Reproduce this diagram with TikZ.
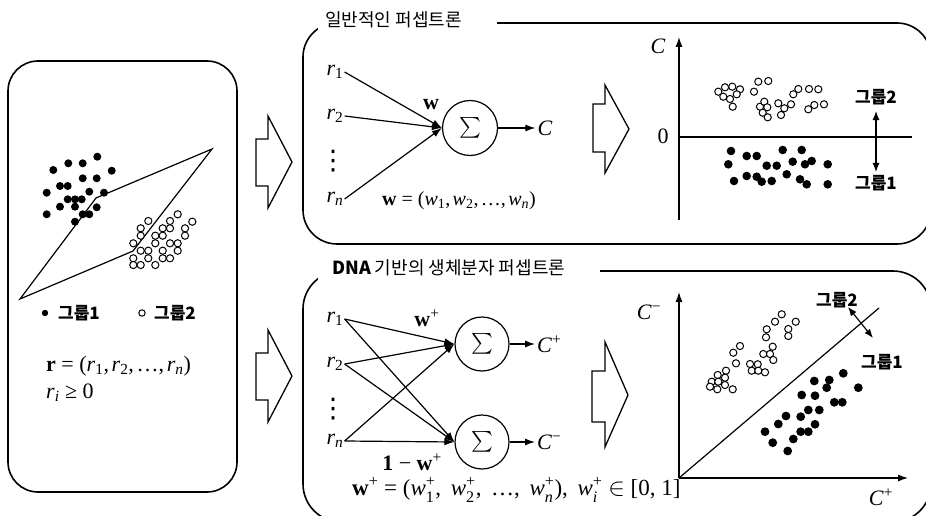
\documentclass[tikz,border=0pt]{standalone}
\usepackage{amsmath}
\usepackage{fontspec}
\setmainfont{Liberation Serif}
\newfontfamily\krfont{Noto Sans CJK KR}
\newfontfamily\symfont{DejaVu Sans}
\usetikzlibrary{arrows.meta}

% scripts set in the text font
\newcommand{\sbx}[1]{\ensuremath{_{\text{#1}}}}
\newcommand{\spx}[1]{\ensuremath{^{\text{#1}}}}
\newcommand{\spsb}[2]{\ensuremath{^{\text{#1}}_{\text{#2}}}}
% separators inside the vectors
\newcommand{\tsep}{,\hspace{0.12em}}
\newcommand{\wsep}{,\hspace{0.42em}}

\tikzset{
  panel/.style={line width=1.6pt, rounded corners=34pt},
  wire/.style={line width=1.2pt},
  arr/.style={wire, -{Latex[length=10pt,width=7pt]}},
  darr/.style={wire, {Latex[length=9pt,width=7pt]}-{Latex[length=9pt,width=7pt]}},
  blockarrow/.style={line width=1.3pt, line join=miter},
  mth/.style={font=\fontsize{22}{24}\selectfont, inner sep=1pt},
  bigmth/.style={font=\fontsize{22}{24}\selectfont, inner sep=0pt, anchor=west},
  dotsnode/.style={font=\symfont\fontsize{27}{29}\selectfont, inner sep=0pt},
  grp/.style={font=\krfont\bfseries\fontsize{17}{19}\selectfont, inner sep=1pt},
  paneltitle/.style={font=\krfont\fontsize{18}{20}\selectfont, anchor=west, inner sep=0pt},
  sumnode/.style={circle, draw, line width=1.2pt, minimum size=55pt, inner sep=0pt,
                  font=\fontsize{22}{24}\selectfont},
  fulldot/.style={fill=black},
  opendot/.style={draw, fill=white, line width=1pt},
}

\begin{document}
\begin{tikzpicture}[x=1pt, y=-1pt]
\path[use as bounding box] (0,0) rectangle (926,516);
\clip (0,0) rectangle (926,516);

% ---------------- input panel ----------------
\draw[panel, rounded corners=30pt] (8,61) rectangle (237,492);

% two groups of samples
\foreach \x/\y in {97.3/156.7, 68.3/163.3, 82.7/163.3, 53.3/170, 111.7/170.7,
  82.7/178.3, 96.7/178.3, 60/186, 67.7/186, 46.7/192.7, 89.3/191.7, 104/192.7,
  67.7/199.3, 75/199.3, 81.7/199.3, 60/206.7, 75/206.7, 96.7/207.3, 46.7/214.3,
  82.7/214.3, 89.3/214.3, 75/221.7}
  \fill[fulldot] (\x,\y) circle (4pt);
\draw[wire] (20,299) -- (96,198) -- (212,149) -- (133,251) -- cycle;
\foreach \x/\y in {177.7/214.3, 148.3/221, 170/221, 192.3/221.7, 140.7/228.3,
  162.7/228.3, 170/228.3, 185/228.3, 140.7/235.7, 155.3/235.7, 162.7/235.7,
  185/235.7, 133.3/243.3, 155.3/243.3, 170/243.3, 177.7/243.3, 140.7/250.7,
  148.3/250.7, 162.7/250.7, 177.7/250.7, 133.3/258.3, 148.3/258.3, 162.7/258.3,
  170/258.3, 133.3/265, 140.7/265, 155.3/265}
  \draw[opendot] (\x,\y) circle (3.6pt);

% legend
\fill[fulldot] (45,313) circle (3.2pt);
\node[grp] (leg1) at (79,313) {그룹1};
\draw[opendot] (142,313) circle (3.2pt);
\node[grp] (leg2) at (175,313) {그룹2};

\node[bigmth] (rvec) at (46,366) {\textbf{r} = (\textit{r}\sbx{1}\tsep\textit{r}\sbx{2}\tsep…\tsep\textit{r}\sbx{\itshape n})};
\node[bigmth] (rpos) at (46,393) {\textit{r}\sbx{\itshape i} ≥ 0};

% ---------------- block arrows ----------------
\draw[blockarrow] (256,139) -- (268,139) -- (268,116) -- (292,162) -- (268,208)
  -- (268,186) -- (256,186) -- cycle;
\draw[blockarrow] (256,353) -- (268,353) -- (268,330) -- (292,376) -- (268,422)
  -- (268,400) -- (256,400) -- cycle;
\draw[blockarrow] (593,104) -- (605,104) -- (605,85) -- (629,129) -- (605,173)
  -- (605,152) -- (593,152) -- cycle;
\draw[blockarrow] (592,371) -- (605,371) -- (605,342) -- (628,395) -- (605,447)
  -- (605,422) -- (592,422) -- cycle;

% ---------------- ordinary perceptron ----------------
\draw[panel] (303,23) rectangle (931,244);
\fill[white] (318,5) rectangle (497,36);
\node[paneltitle] (title1) at (325,20) {일반적인 퍼셉트론};

\node[mth] (a1) at (335,72) {\textit{r}\sbx{1}};
\node[mth] (a2) at (335,116) {\textit{r}\sbx{2}};
\node[dotsnode] (ad) at (333,161) {⋮};
\node[mth] (an) at (335,199) {\textit{r}\sbx{\itshape n}};
\node[sumnode] (sum) at (470,128) {$\textstyle\sum$};
\draw[arr] (a1.east) -- (sum.west);
\draw[arr] (a2.east) -- (sum.west);
\draw[arr] (an.east) -- (sum.west);
\node[mth] (wlab) at (431,105) {\textbf{w}};
\node[mth, inner sep=2pt] (cout) at (545,128) {\textit{C}};
\draw[arr] (sum.east) -- (cout.west);
\node[mth, font=\fontsize{20}{22}\selectfont] (wvec) at (459,201)
  {\textbf{w} = (\textit{w}\sbx{1}\tsep\textit{w}\sbx{2}\tsep…\tsep\textit{w}\sbx{\itshape n})};

% output axis of the ordinary perceptron
\coordinate (o1) at (679,220);
\coordinate (o1top) at (679,37);
\coordinate (z0) at (679,137);
\coordinate (z1) at (912,137);
\draw[arr] (o1) -- (o1top);
\draw[wire] (z0) -- (z1);
\node[mth] (cax) at (658,46) {\textit{C}};
\node[mth] (zero) at (663,136) {0};
\foreach \x/\y in {718.3/91.7, 725/87.3, 732.3/86.7, 740/89.3, 723.3/96.7, 730/99,
  736.7/94.3, 732.7/106.7, 754/91.7, 758.3/81.7, 768.3/81, 793.3/94.3, 798.3/89,
  809/89, 818.3/89.3, 760/106.7, 764.3/101.7, 767.3/107.3, 762.7/112.7,
  767.7/117.3, 778.3/103.3, 784.3/108.3, 781/115, 791/104.3, 808.3/109.3,
  814.3/105, 824/104.3}
  \draw[opendot] (\x,\y) circle (3.6pt);
\foreach \x/\y in {731/151, 782.7/150, 801.7/150, 746.7/156, 756.7/156,
  728.3/164.3, 766.7/165.7, 776.7/165.7, 792.7/161.7, 805/164.3, 811.7/161,
  827.7/164.3, 734/181, 746.7/176, 756.7/176.7, 761.7/181.7, 771.7/181,
  786.7/174.3, 800/179.3, 806.7/184.3, 827.7/184.3}
  \fill[fulldot] (\x,\y) circle (4.3pt);
\node[grp] (tg2) at (876,97) {그룹2};
\node[grp] (tg1) at (876,183) {그룹1};
\draw[darr, shorten <=5pt, shorten >=2pt] (tg2) -- (tg1);

% ---------------- DNA-based molecular perceptron ----------------
\draw[panel, rounded corners=38pt] (303,271) rectangle (931,522);
\fill[white] (318,254) rectangle (600,284);
\node[paneltitle] (title2) at (332,268) {{\bfseries DNA} 기반의 생체분자 퍼셉트론};

\node[mth] (b1) at (335,319) {\textit{r}\sbx{1}};
\node[mth] (b2) at (335,364) {\textit{r}\sbx{2}};
\node[dotsnode] (bd) at (333,409) {⋮};
\node[mth] (bn) at (335,441) {\textit{r}\sbx{\itshape n}};
\node[sumnode, minimum size=54pt] (sp) at (482,344) {$\textstyle\sum$};
\node[sumnode, minimum size=54pt] (sm) at (482,442) {$\textstyle\sum$};
\foreach \s in {b1,b2,bn} {
  \draw[arr] (\s.east) -- (sp.west);
  \draw[arr] (\s.east) -- (sm.west);
}
\node[mth] (wplab) at (427,318) {\textbf{w}\spx{+}};
\node[mth] (wmlab) at (412,462) {\textbf{1} − \textbf{w}\spx{+}};
\node[mth, inner sep=2pt, anchor=west] (cp) at (535,344) {\textit{C}\spx{+}};
\node[mth, inner sep=2pt, anchor=west] (cm) at (535,442) {\textit{C}\spx{−}};
\draw[arr] (sp.east) -- (cp.west);
\draw[arr] (sm.east) -- (cm.west);
\node[mth, anchor=west, inner sep=0pt, font=\fontsize{23}{25}\selectfont] (wpvec) at (352,490)
  {\textbf{w}\spx{+} = (\textit{w}\spsb{+}{1}\wsep\textit{w}\spsb{+}{2}\wsep…\wsep\textit{w}\spsb{+}{\itshape n})\wsep\textit{w}\spsb{+}{\itshape i} $\in$ [0, 1]};

% output plane of the molecular perceptron
\coordinate (org) at (679,478);
\coordinate (ytop) at (679,292);
\coordinate (xend) at (908,478);
\coordinate (diag) at (879,308);
\draw[arr] (org) -- (ytop);
\draw[arr] (org) -- (xend);
\draw[wire] (org) -- (diag);
\node[mth] (cmax) at (649,312) {\textit{C}\spx{−}};
\node[mth] (cpax) at (881,497) {\textit{C}\spx{+}};
\foreach \x/\y in {781.7/314.3, 775/321.7, 795.7/321.7, 766.7/329.3, 788.3/329,
  766/337.3, 788.3/336, 740/346, 733.3/352.7, 772.7/346.7, 763.3/354, 770/354,
  773.3/360, 736/363.3, 750/364, 757.7/364.3, 726/370.7, 717.7/375, 725/377.7,
  711.7/381.7, 718.3/381.7, 710/386.7, 717.3/389.3, 725/385, 732.7/389.3,
  751.7/370.7, 758.3/370.7, 765/372.3}
  \draw[opendot] (\x,\y) circle (3.6pt);
\foreach \x/\y in {843.3/373.3, 829.3/380, 814.3/381, 826.7/387.7, 858.3/387.7,
  801.7/395, 815/395.7, 808.3/410, 819.3/410, 834.3/402.3, 842.3/402.3,
  786/416, 800.7/416.7, 778.3/424, 815/424.3, 765/431.7, 800.7/431.7,
  808.3/431.7, 793.3/439, 772.7/442.7, 787.7/451}
  \fill[fulldot] (\x,\y) circle (4.4pt);
\node[grp] (bg2) at (837,300) {그룹2};
\node[grp] (bg1) at (882,362) {그룹1};
\coordinate (sepa) at (848,307);
\coordinate (sepb) at (873,338);
\draw[darr] (sepa) -- (sepb);
\end{tikzpicture}
\end{document}
